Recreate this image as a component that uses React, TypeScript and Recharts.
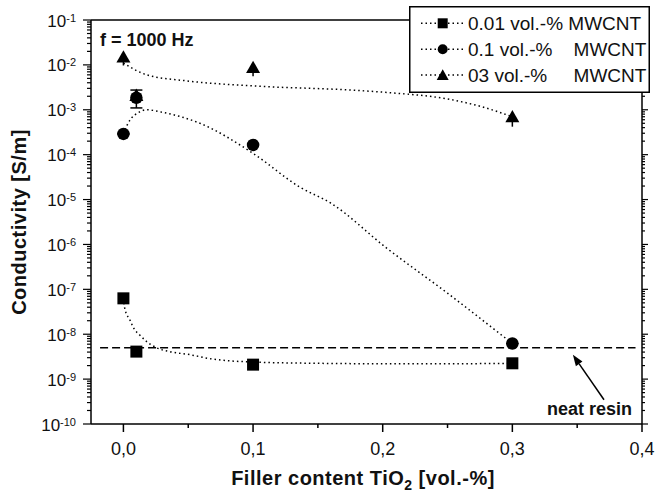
import React from 'react';
import { ComposedChart, Scatter, Line, XAxis, YAxis, ErrorBar, ReferenceLine, Legend } from 'recharts';

const FONT = '"Liberation Sans", Arial, Helvetica, sans-serif';

// measured points (TiO2 content vs conductivity)
const tio2 = [0, 0.01, 0.1, 0.3];
const cnt001 = [6.3e-8, 4.1e-9, 2.1e-9, 2.25e-9];
const cnt01 = [2.9e-4, 1.85e-3, 1.65e-4, 6.2e-9];
const cnt03 = [1.5e-2, 2.1e-3, 8.8e-3, 7.0e-4];
const err001 = [0, 0, 0, 0];
const err01Low = [0, 7.5e-4, 0, 0];
const err01High = [0, 9e-4, 0, 0];
const err03Low = [5.3e-3, 0, 3.2e-3, 2.8e-4];
const err03High = [0, 0, 0, 0];

// dotted guide curves
const fit001X = [0, 0.001, 0.0049, 0.0087, 0.0126, 0.0178, 0.0255, 0.0358, 0.0513, 0.0654, 0.1, 0.15, 0.2, 0.25, 0.3];
const fit001Y = [6.3e-8, 3.8e-8, 2.1e-8, 1.26e-8, 9.6e-9, 6.9e-9, 5e-9, 4.1e-9, 3.5e-9, 2.9e-9, 2.4e-9, 2.25e-9, 2.2e-9, 2.2e-9, 2.25e-9];
const fit01X = [0, 0.0036, 0.0126, 0.018, 0.03, 0.059, 0.1, 0.136, 0.16, 0.203, 0.25, 0.3];
const fit01Y = [2.9e-4, 5e-4, 9e-4, 1e-3, 8.8e-4, 5e-4, 1.07e-4, 1.9e-5, 8.3e-6, 8.3e-7, 8.2e-8, 6.2e-9];
const fit03X = [0, 0.0023, 0.018, 0.049, 0.1, 0.175, 0.206, 0.252, 0.275, 0.3];
const fit03Y = [1.1e-2, 1e-2, 6e-3, 4.4e-3, 3.4e-3, 2.75e-3, 2.4e-3, 1.7e-3, 1.2e-3, 7e-4];

const neatResin = 5e-9;
const arrowTail = { x: 0.3707, y: 3.47e-10 };
const arrowHead = { x: 0.3467, y: 3.47e-9 };

const xMajor = [0, 0.1, 0.2, 0.3, 0.4];
const xMinor = [0.05, 0.15, 0.25, 0.35];
const yExponents = [-10, -9, -8, -7, -6, -5, -4, -3, -2, -1];

const legendLabels = ['0.01 vol.-% MWCNT', '0.1 vol.-%    MWCNT', '03 vol.-%     MWCNT'];

const xTicks = [...xMajor, ...xMinor].sort((a, b) => a - b);
const yTicks: number[] = [];
yExponents.forEach((e) => {
  yTicks.push(Math.pow(10, e));
  if (e < -1) for (let k = 2; k <= 9; k++) yTicks.push(Number((k * Math.pow(10, e)).toPrecision(3)));
});

const pts = (ys: number[], lo: number[], hi: number[]) =>
  tio2.map((x, i) => ({ x, y: ys[i], err: [lo[i], hi[i]] }));
const curve = (xs: number[], ys: number[]) => xs.map((x, i) => ({ x, y: ys[i] }));

const isMajorX = (v: number) => xMajor.some((m) => Math.abs(m - v) < 1e-9);
const isMajorY = (v: number) => Math.abs(Math.log10(v) - Math.round(Math.log10(v))) < 1e-6;

const BottomTick = (p: any) => {
  const major = isMajorX(p.payload.value);
  return (
    <g>
      <line x1={p.x} x2={p.x} y1={p.y} y2={p.y + (major ? 8 : 4)} stroke="#000" strokeWidth={1.5} />
      {major && (
        <text x={p.x} y={p.y + 31} textAnchor="middle" fontSize={18} fontFamily={FONT} fill="#111">
          {p.payload.value.toFixed(1).replace('.', ',')}
        </text>
      )}
    </g>
  );
};

const TopTick = (p: any) => {
  const major = isMajorX(p.payload.value);
  return <line x1={p.x} x2={p.x} y1={p.y} y2={p.y - (major ? 8 : 5)} stroke="#000" strokeWidth={1.5} />;
};

const LeftTick = (p: any) => {
  const v = p.payload.value;
  const major = isMajorY(v);
  return (
    <g>
      <line x1={p.x} x2={p.x - (major ? 8 : 4)} y1={p.y} y2={p.y} stroke="#000" strokeWidth={1.2} />
      {major && (
        <text x={p.x - 15} y={p.y + 6.5} textAnchor="end" fontSize={17} fontFamily={FONT} fill="#111">
          10<tspan dy={-5} fontSize={11}>{Math.round(Math.log10(v))}</tspan>
        </text>
      )}
    </g>
  );
};

const RightTick = (p: any) => {
  const major = isMajorY(p.payload.value);
  return <line x1={p.x} x2={p.x + (major ? 6 : 3)} y1={p.y} y2={p.y} stroke="#000" strokeWidth={1.2} />;
};

const Square = ({ cx, cy, s = 12 }: any) => <rect x={cx - s / 2} y={cy - s / 2} width={s} height={s} fill="#000" />;
const Dot = ({ cx, cy, s = 12.5 }: any) => <circle cx={cx} cy={cy} r={s / 2} fill="#000" />;
const Tri = ({ cx, cy, s = 14 }: any) => (
  <polygon points={`${cx},${cy - s * 0.48} ${cx - s / 2},${cy + s * 0.4} ${cx + s / 2},${cy + s * 0.4}`} fill="#000" />
);
const markers = [Square, Dot, Tri];

const Arrow = (p: any) => {
  const { x1, y1, x2, y2 } = p;
  const a = Math.atan2(y2 - y1, x2 - x1);
  const L = 11, W = 4;
  const bx = x2 - L * Math.cos(a), by = y2 - L * Math.sin(a);
  const nx = -Math.sin(a) * W, ny = Math.cos(a) * W;
  return (
    <g>
      <line x1={x1} y1={y1} x2={bx} y2={by} stroke="#000" strokeWidth={1.5} />
      <polygon points={`${x2},${y2} ${bx + nx},${by + ny} ${bx - nx},${by - ny}`} fill="#000" />
    </g>
  );
};

const LegendBox = () => (
  <svg width={241} height={87} style={{ display: 'block' }}>
    <rect x={0.75} y={0.75} width={239.5} height={85.5} fill="#fff" stroke="#000" strokeWidth={1.5} />
    {legendLabels.map((label, i) => {
      const y = 17.3 + i * 25.9;
      const M = markers[i];
      return (
        <g key={label}>
          <line x1={12} x2={54} y1={y} y2={y} stroke="#000" strokeWidth={1.5} strokeDasharray="1.5 3" />
          <M cx={33.7} cy={y} s={i === 2 ? 12 : 10} />
          <text x={59} y={y + 6.7} fontSize={19} fontFamily={FONT} fill="#111" style={{ whiteSpace: 'pre' }}>
            {label}
          </text>
        </g>
      );
    })}
  </svg>
);

const series = [
  { data: pts(cnt001, err001, err001), fit: curve(fit001X, fit001Y), M: Square, cap: 0 },
  { data: pts(cnt01, err01Low, err01High), fit: curve(fit01X, fit01Y), M: Dot, cap: 6 },
  { data: pts(cnt03, err03Low, err03High), fit: curve(fit03X, fit03Y), M: Tri, cap: 0 },
];

export default function App() {
  return (
    <div style={{ position: 'absolute', left: 0, top: 0, width: 656, height: 492, background: '#fff' }}>
      <ComposedChart width={656} height={492} margin={{ top: 19, right: 13, bottom: 18, left: 0 }}>
        <XAxis
          dataKey="x" type="number" domain={[-0.025, 0.4]} ticks={xTicks} interval={0} allowDataOverflow
          height={50} tickSize={0} tickMargin={0} tickLine={false}
          axisLine={{ stroke: '#000', strokeWidth: 1.5 }} tick={(p: any) => <BottomTick {...p} />}
        />
        <XAxis
          xAxisId="top" orientation="top" type="number" domain={[-0.025, 0.4]} ticks={xTicks} interval={0} allowDataOverflow
          height={1} tickSize={0} tickMargin={0} tickLine={false}
          axisLine={{ stroke: '#000', strokeWidth: 1.5 }} tick={(p: any) => <TopTick {...p} />}
        />
        <YAxis
          dataKey="y" type="number" scale="log" domain={[1e-10, 1e-1]} ticks={yTicks} interval={0} allowDataOverflow
          width={91} tickSize={0} tickMargin={0} tickLine={false}
          axisLine={{ stroke: '#000', strokeWidth: 1.5 }} tick={(p: any) => <LeftTick {...p} />}
        />
        <YAxis
          yAxisId="right" orientation="right" type="number" scale="log" domain={[1e-10, 1e-1]} ticks={yTicks} interval={0} allowDataOverflow
          width={1} tickSize={0} tickMargin={0} tickLine={false}
          axisLine={{ stroke: '#000', strokeWidth: 1.5 }} tick={(p: any) => <RightTick {...p} />}
        />

        <ReferenceLine
          segment={[{ x: -0.018, y: neatResin }, { x: 0.395, y: neatResin }]}
          stroke="#000" strokeWidth={1.5} strokeDasharray="8 4"
        />
        <ReferenceLine segment={[arrowTail, arrowHead]} shape={(p: any) => <Arrow {...p} />} />

        {series.map((s, i) => (
          <Line
            key={'fit' + i} data={s.fit} dataKey="y" type="monotone" dot={false} activeDot={false}
            stroke="#000" strokeWidth={1.5} strokeDasharray="1.5 3" isAnimationActive={false} legendType="none"
          />
        ))}
        {series.map((s, i) => (
          <Scatter
            key={'pts' + i} data={s.data} dataKey="y" isAnimationActive={false}
            shape={(p: any) => <s.M cx={p.cx} cy={p.cy} />}
          >
            <ErrorBar dataKey="err" direction="y" width={s.cap} stroke="#000" strokeWidth={1.5} />
          </Scatter>
        ))}

        <text x={100} y={45.5} fontSize={18} fontWeight="bold" fontFamily={FONT} fill="#111">f = 1000 Hz</text>
        <text x={632} y={415} textAnchor="end" fontSize={18} fontWeight="bold" fontFamily={FONT} fill="#111">neat resin</text>
        <text x={363} y={485} textAnchor="middle" fontSize={20} fontWeight="bold" fontFamily={FONT} fill="#111" letterSpacing={0.5}>
          Filler content TiO<tspan dy={5} fontSize={14}>2</tspan><tspan dy={-5}> [vol.-%]</tspan>
        </text>
        <text
          x={26} y={222} textAnchor="middle" fontSize={20} fontWeight="bold" fontFamily={FONT} fill="#111"
          letterSpacing={0.5} transform="rotate(-90 26 222)"
        >
          Conductivity [S/m]
        </text>

        <Legend
          layout="horizontal" verticalAlign="middle" align="center" content={() => <LegendBox />}
          wrapperStyle={{ position: 'absolute', left: 409, top: 6, width: 241, height: 87 }}
        />
      </ComposedChart>
    </div>
  );
}
